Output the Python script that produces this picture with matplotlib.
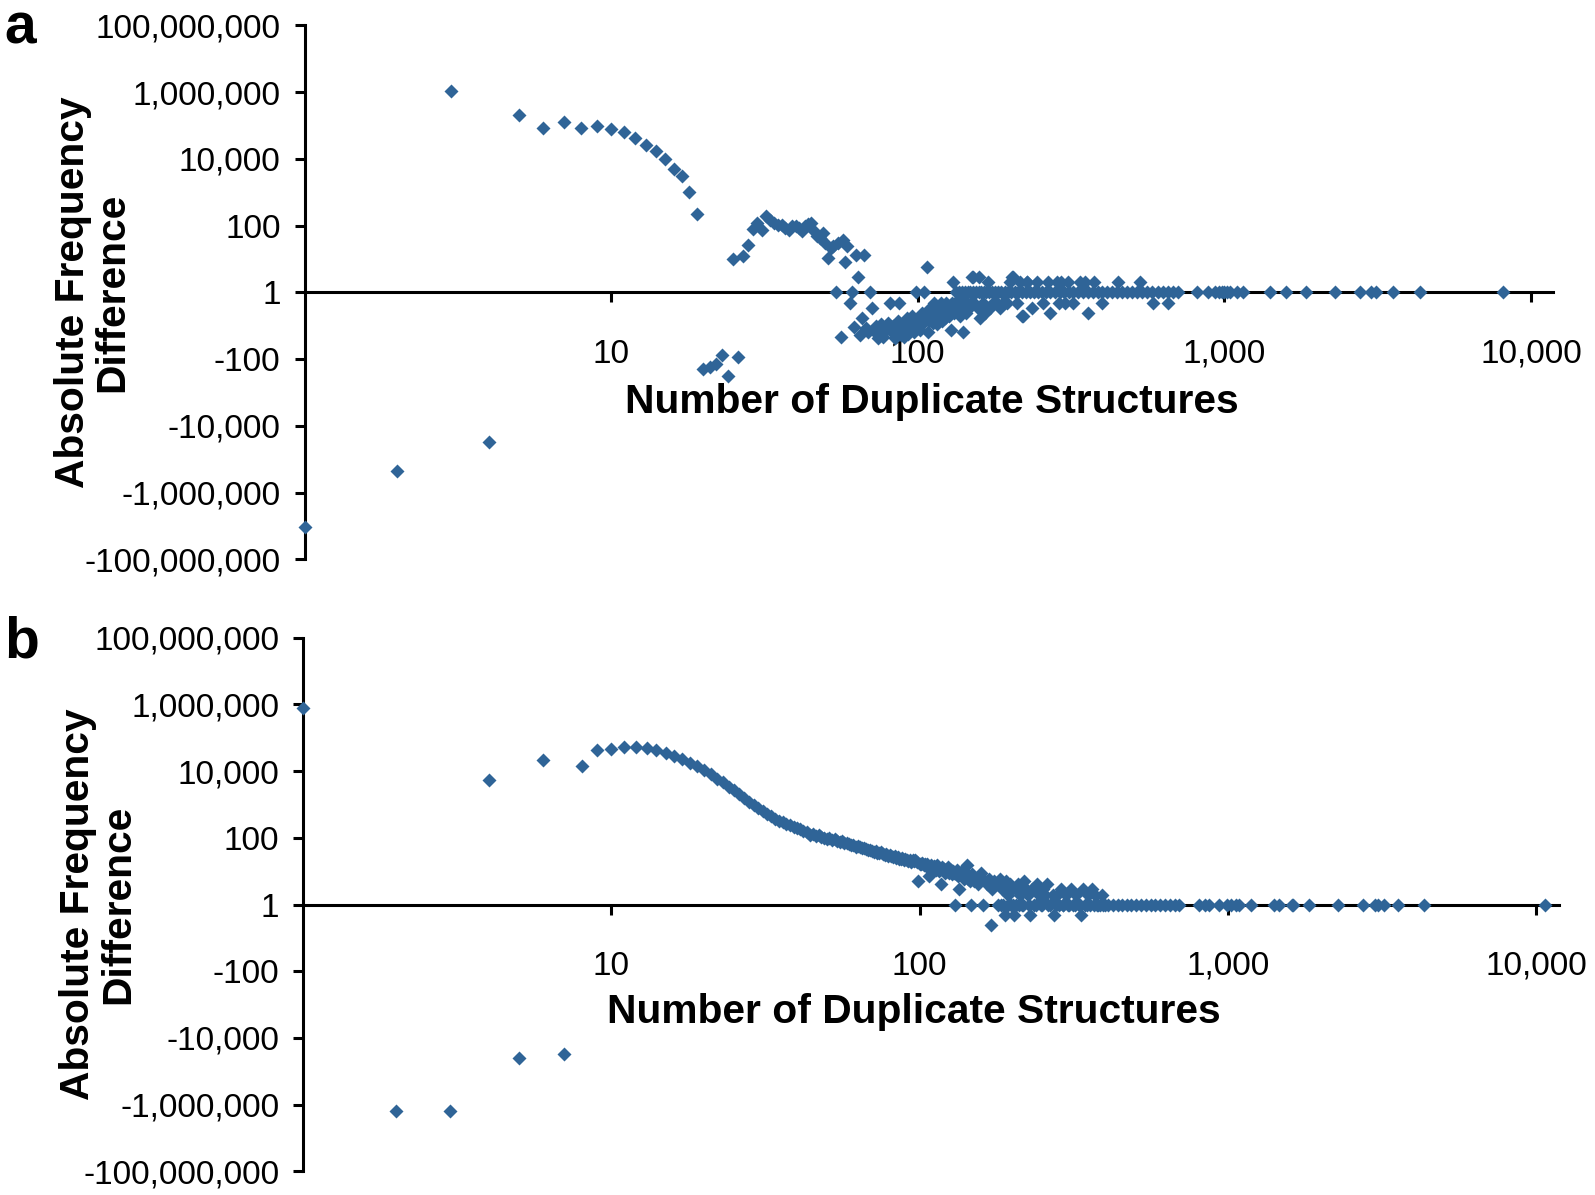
import numpy as np
import matplotlib
matplotlib.use("Agg")
import matplotlib.pyplot as plt
from matplotlib.ticker import FixedLocator, FuncFormatter, NullLocator

# ---- panel a ----
a_head_n = [1, 2, 3, 4, 5, 6, 7, 8, 9, 10, 11, 12,
            13, 14, 15, 16, 17, 18, 19, 20, 21, 22, 23, 24]
a_head_diff = [-10500000, -230000, 1070000, -31000, 210000, 85000, 130000, 85000,
               98000, 79000, 65000, 43000, 27000, 17000, 10000, 5100,
               3000, 1000, 220, -200, -166, -140, -74, -316]

a_mid_n = [25, 26, 27, 28, 29, 30, 31, 32, 33, 34,
           35, 36, 37, 38, 39, 40, 41, 42, 43, 44,
           45, 46, 47, 48, 49, 50, 51, 52, 53, 54,
           55, 56, 57, 58, 59, 60, 61, 62, 63, 64,
           65, 66, 67, 68, 69, 70, 71, 72, 73, 74,
           75, 76, 77, 78, 79, 80, 81, 82, 83, 84,
           85, 86, 87, 88, 89, 90, 91, 92, 93, 94,
           95, 96, 97, 98, 99, 100, 101, 102, 103, 104,
           105, 106, 107, 108, 109, 110, 111, 112, 113, 114,
           115, 116, 117, 118, 119, 120, 121, 122, 123, 124,
           125, 126, 127, 128, 129, 130, 131, 132, 133, 134,
           135, 136, 137, 138, 139, 140, 141, 142, 143, 144,
           145, 146, 147, 148, 149, 150]
a_mid_diff = [10, -87, 12, 27, 80, 120, 76, 190, 150, 120,
              107, 107, 85, 76, 100, 95, 85, 68, 95, 110,
              120, 68, 48, 43, 60, 30, 11, 21, 24, 1,
              30, -22, 38, 8, 24, -2, 1, -11, 13, 3,
              -19, -6, 13, -12, -15, 1, -3, -14, -10, -23,
              -12, -9, -21, -11, -13, -8, -2, -14, -10, -23,
              -12, -7, -2, -19, -9, -22, -11, -6, -17, -8,
              -12, -5, -15, -7, 1, -9, -6, -13, -4, -8,
              1, -5, 6, -15, -7, -3, -5, -8, -2, -6,
              -4, -9, -3, -5, -2, -7, -4, -3, -6, -2,
              -4, -5, -3, -13, -2, 2, -4, -2, 1, -3,
              -2, 1, -5, -2, 1, -3, -15, -2, 1, -4,
              -2, 1, -3, 1, -2, 3]

a_tail_n = [151, 152, 153, 155, 157, 158, 159, 160, 161, 163,
            164, 166, 167, 170, 171, 172, 175, 176, 179, 181,
            183, 185, 187, 190, 192, 195, 197, 200, 202, 203,
            205, 207, 210, 213, 215, 218, 219, 221, 225, 227,
            228, 232, 236, 239, 245, 246, 254, 256, 262, 265,
            270, 271, 280, 284, 288, 290, 293, 300, 302, 310,
            311, 320, 322, 334, 337, 346, 350, 359, 360, 372,
            377, 386, 398, 400, 415, 431, 447, 450, 464, 482,
            500, 520, 532, 540, 561, 583, 586, 606, 630, 655,
            657, 681, 708]
a_tail_diff = [3, 1, -2, 1, -3, 1, 3, -6, 1, -2,
               1, -4, 1, 2, 1, -3, 1, -2, 1, -2,
               1, -3, 1, -2, 1, -2, 1, 2, 1, 3,
               3, 1, -2, 1, 2, -5, 1, -5, 1, 2,
               2, 1, -3, 1, 2, 1, 1, -2, 1, 2,
               -4, 1, 1, 2, -2, 1, 2, 1, -2, 2,
               1, -2, 1, 1, 2, 1, 2, 1, -4, 1,
               2, 1, -2, 1, 1, 1, 1, 2, 1, 1,
               1, 1, 2, 1, 1, 1, -2, 1, 1, 1,
               -2, 1, 1]

a_sparse_n = [815, 883, 935, 960, 985, 1000, 1020, 1045, 1099, 1151,
              1413, 1593, 1848, 2303, 2760, 3013, 3112, 3550, 4335, 8116]
a_sparse_diff = [1, 1, 1, 1, 1, 1, 1, 1, 1, 1,
                 1, 1, 1, 1, 1, 1, 1, 1, 1, 1]

# ---- panel b ----
b_head_n = [1, 2, 3, 4, 5, 6, 7, 8, 9, 10, 11, 12,
            13, 14, 15, 16, 17, 18, 19, 20, 21, 22, 23, 24]
b_head_diff = [794000, -1600000, -1550000, 5400, -41000, 21000, -30000, 14500,
               44000, 46000, 54000, 52000, 48000, 42000, 35000, 29000,
               23000, 18000, 14000, 11000, 8300, 6000, 4700, 3400]

b_mid_n = [25, 26, 27, 28, 29, 30, 31, 32, 33, 34,
           35, 36, 37, 38, 39, 40, 41, 42, 43, 44,
           45, 46, 47, 48, 49, 50, 51, 52, 53, 54,
           55, 56, 57, 58, 59, 60, 61, 62, 63, 64,
           65, 66, 67, 68, 69, 70, 71, 72, 73, 74,
           75, 76, 77, 78, 79, 80, 81, 82, 83, 84,
           85, 86, 87, 88, 89, 90, 91, 92, 93, 94,
           95, 96, 97, 98, 99, 100, 101, 102, 103, 104,
           105, 106, 107, 108, 109, 110, 111, 112, 113, 114,
           115, 116, 117, 118, 119, 120, 121, 122, 123, 124,
           125, 126, 127, 128, 129, 130, 131, 132, 133, 134,
           135, 136, 137, 138, 139, 140, 141, 142, 143, 144,
           145, 146, 147, 148, 149, 150]
b_mid_diff = [2700, 2000, 1600, 1200, 950, 760, 630, 525, 450, 380,
              330, 295, 263, 240, 219, 200, 185, 160, 150, 126,
              135, 112, 118, 105, 98, 95, 100, 88, 90, 82,
              76, 80, 70, 72, 64, 63, 60, 55, 58, 52,
              48, 50, 45, 43, 44, 40, 38, 41, 36, 34,
              37, 33, 30, 32, 29, 31, 28, 26, 29, 25,
              27, 24, 23, 25, 22, 24, 21, 20, 22, 19,
              21, 20, 21, 19, 5, 17, 16, 18, 15, 17,
              14, 16, 7, 13, 15, 12, 14, 13, 11, 15,
              12, 10, 4, 13, 11, 12, 9, 11, 10, 13,
              9, 11, 8, 10, 9, 1, 8, 11, 7, 3,
              9, 8, 10, 7, 6, 9, 7, 15, 8, 6,
              7, 5, 1, 8, 6, 5]

b_tail_n = [152, 155, 158, 161, 163, 166, 168, 170, 172, 175,
            177, 180, 182, 185, 187, 189, 191, 193, 196, 199,
            201, 203, 206, 209, 212, 215, 219, 222, 225, 229,
            232, 236, 240, 244, 248, 252, 256, 260, 265, 270,
            274, 279, 283, 288, 293, 298, 303, 309, 315, 322,
            328, 335, 339, 345, 352, 362, 371, 380, 390, 400]
b_tail_diff = [6, 4, 9, 1, 5, 4, 6, -4, 3, 5,
               4, 1, 6, 3, 1, -2, 5, 2, 4, 3,
               1, -2, 3, 4, 2, 1, 5, 3, 2, -2,
               3, 1, 4, 2, 1, 3, 2, 4, 1, 2,
               -2, 2, 1, 3, 1, 2, 1, 3, 1, 2,
               1, -2, 3, 1, 2, 3, 2, 1, 2, 1]

b_flat_n = [184, 194, 198, 205, 210, 217, 227, 238, 250, 262,
            277, 291, 306, 319, 332, 349, 358, 367, 376, 385,
            395, 410, 425, 440, 455, 470, 487, 505, 523, 542,
            562, 582, 603, 625, 648, 672, 696]
b_flat_diff = [1, 1, 1, 1, 1, 1, 1, 1, 1, 1,
               1, 1, 1, 1, 1, 1, 1, 1, 1, 1,
               1, 1, 1, 1, 1, 1, 1, 1, 1, 1,
               1, 1, 1, 1, 1, 1, 1]

b_sparse_n = [809, 841, 870, 934, 996, 1021, 1063, 1091, 1189, 1415, 1463,
              1611, 1632, 1833, 2287, 2743, 3005, 3083, 3206, 3556, 4323, 10720]
b_sparse_diff = [1, 1, 1, 1, 1, 1, 1, 1, 1, 1, 1,
                 1, 1, 1, 1, 1, 1, 1, 1, 1, 1, 1]

y_ticks = [1e8, 1e6, 1e4, 100, 1, -100, -1e4, -1e6, -1e8]
x_ticks = [10, 100, 1000, 10000]
x_tick_labels = ["10", "100", "1,000", "10,000"]

POINT_COLOR = "#2f6497"


def signed_log(v):
    v = np.asarray(v, dtype=float)
    return np.sign(v) * np.log10(np.maximum(np.abs(v), 1.0))


def signed_exp(t):
    t = np.asarray(t, dtype=float)
    return np.sign(t) * 10.0 ** np.abs(t)


def style_panel(ax, xmax):
    ax.set_xscale("log")
    ax.set_yscale("function", functions=(signed_log, signed_exp))
    ax.set_xlim(1, xmax)
    ax.set_ylim(-1e8, 1e8)

    ax.yaxis.set_major_locator(FixedLocator(y_ticks))
    ax.yaxis.set_major_formatter(FuncFormatter(lambda v, pos: f"{int(round(v)):,}"))
    ax.yaxis.set_minor_locator(NullLocator())
    ax.set_xticks(x_ticks)
    ax.set_xticklabels(x_tick_labels)
    ax.xaxis.set_minor_locator(NullLocator())

    for side in ["top", "right"]:
        ax.spines[side].set_visible(False)
    ax.spines["bottom"].set_position(("data", 1))
    for side in ["left", "bottom"]:
        ax.spines[side].set_linewidth(2.2)

    ax.tick_params(axis="both", direction="out", length=7.2, width=2.2, labelsize=24)
    ax.tick_params(axis="x", pad=26)
    ax.tick_params(axis="y", pad=10)


def plot_panel(ax, segments):
    for n, diff in segments:
        ax.plot(n, diff, ls="none", marker="D", ms=7, color=POINT_COLOR,
                mec="none", clip_on=False, zorder=3)


plt.rcParams["font.family"] = ["Liberation Sans", "DejaVu Sans"]

fig = plt.figure(figsize=(15.95, 11.95), dpi=100)

ax_a = fig.add_axes([304.5 / 1595, 0.5318, (1553 - 304.5) / 1595, 0.4469])
style_panel(ax_a, 11800)
plot_panel(ax_a, [(a_head_n, a_head_diff), (a_mid_n, a_mid_diff),
                  (a_tail_n, a_tail_diff), (a_sparse_n, a_sparse_diff)])

ax_b = fig.add_axes([303.2 / 1595, 0.0198, (1559 - 303.2) / 1595, 0.4465])
style_panel(ax_b, 11880)
plot_panel(ax_b, [(b_head_n, b_head_diff), (b_mid_n, b_mid_diff),
                  (b_tail_n, b_tail_diff), (b_flat_n, b_flat_diff),
                  (b_sparse_n, b_sparse_diff)])

label_kw = dict(fontsize=29.3, fontweight="bold", ha="center", va="center")
fig.text(932 / 1595, 1 - 402 / 1195, "Number of Duplicate Structures", **label_kw)
fig.text(913.5 / 1595, 1 - 1012 / 1195, "Number of Duplicate Structures", **label_kw)
fig.text(93 / 1595, 1 - 292 / 1195, "Absolute Frequency\nDifference",
         rotation=90, multialignment="center", linespacing=1.05, **label_kw)
fig.text(98 / 1595, 1 - 904 / 1195, "Absolute Frequency\nDifference",
         rotation=90, multialignment="center", linespacing=1.05, **label_kw)

fig.text(4 / 1595, 1 - 43.5 / 1195, "a", fontsize=41, fontweight="bold",
         ha="left", va="baseline")
fig.text(4 / 1595, 1 - 658 / 1195, "b", fontsize=41, fontweight="bold",
         ha="left", va="baseline")

fig.savefig("out.png", dpi=100)
